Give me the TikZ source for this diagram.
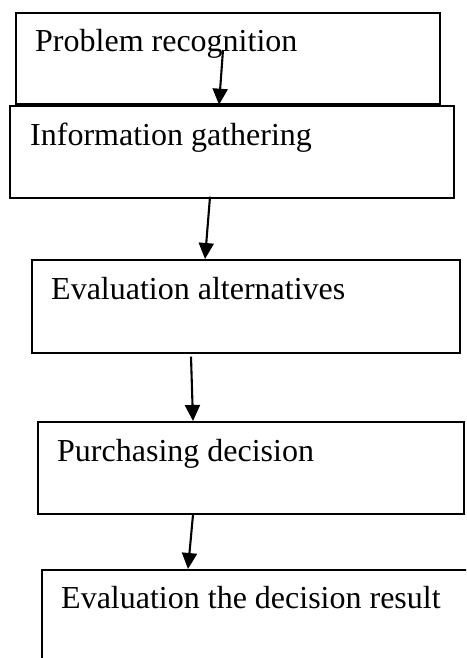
\documentclass[tikz,border=0pt]{standalone}
\usepackage{fontspec}
\setmainfont{Liberation Serif}
\usetikzlibrary{arrows.meta}

\begin{document}
\begin{tikzpicture}[x=1pt,y=1pt,
    stagebox/.style={draw,line width=1.7pt,rectangle,inner sep=0pt,anchor=north west},
    stagetext/.style={inner sep=0pt,anchor=base west,font=\fontsize{32}{36}\selectfont},
    flowarrow/.style={line width=2.1pt,-{Triangle[length=16pt,width=15pt]}}]
  \clip (0,0) rectangle (466,-658);
  % the five stages
  \node[stagebox,minimum width=424,minimum height=91] (recog) at (15,-12) {};
  \node[stagebox,minimum width=444,minimum height=92] (info) at (9,-105) {};
  \node[stagebox,minimum width=428,minimum height=93] (alter) at (31,-259) {};
  \node[stagebox,minimum width=426,minimum height=92] (purch) at (37,-421) {};
  \node[stagebox,minimum width=450,minimum height=92] (result) at (41,-569) {};
  \node[stagetext] (recogtxt) at ([shift={(20,-40)}]recog.north west) {Problem recognition};
  \node[stagetext] (infotxt) at ([shift={(21,-40)}]info.north west) {Information gathering};
  \node[stagetext] (altertxt) at ([shift={(20,-40)}]alter.north west) {Evaluation alternatives};
  \node[stagetext] (purchtxt) at ([shift={(20,-40)}]purch.north west) {Purchasing decision};
  \node[stagetext] (resulttxt) at ([shift={(20,-39)}]result.north west) {Evaluation the decision result};
  % arrows
  \coordinate (start1) at (223,-50);
  \draw[flowarrow] (start1) -- ([xshift=204]recog.south west);
  \draw[flowarrow] ([shift={(201,2)}]info.south west) -- ([xshift=174]alter.north west);
  \draw[flowarrow] ([shift={(160,-3)}]alter.south west) -- ([xshift=156]purch.north west);
  \draw[flowarrow] ([xshift=156]purch.south west) -- ([xshift=147]result.north west);
\end{tikzpicture}
\end{document}
